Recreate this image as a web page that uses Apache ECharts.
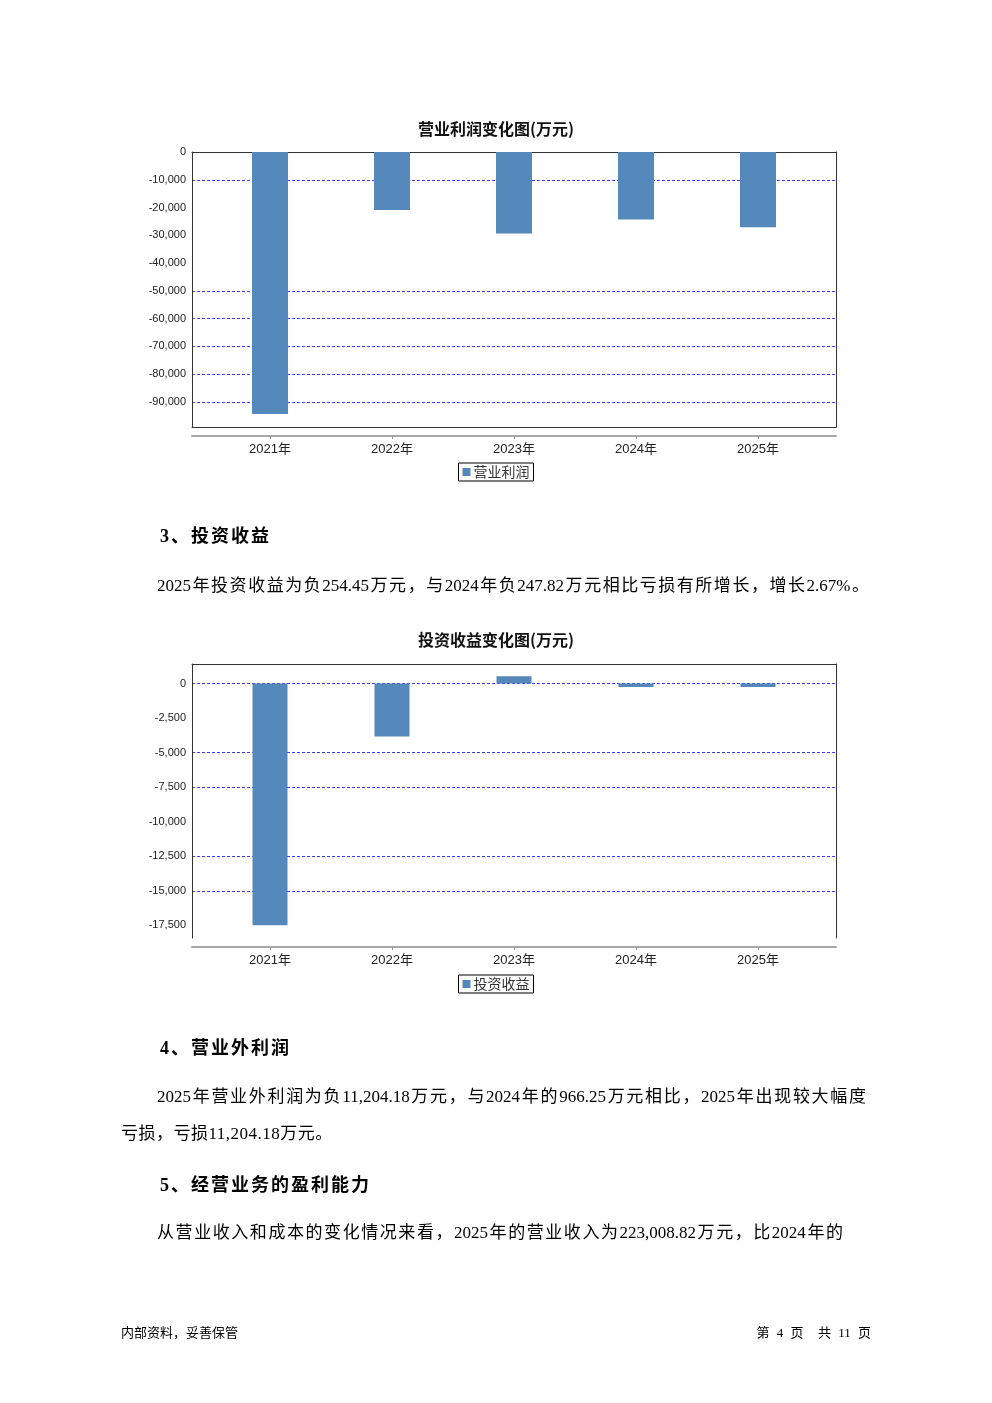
<!DOCTYPE html>
<html>
<head>
<meta charset="utf-8">
<script src="https://cdn.jsdelivr.net/npm/echarts@6.0.0/dist/echarts.min.js"></script>
<style>
  html, body { margin: 0; padding: 0; background: #fff; }
  #page { position: relative; width: 992px; height: 1403px; overflow: hidden; background: #fff; }
  #chart { position: absolute; left: 0; top: 0; width: 992px; height: 1403px; }
  .t { position: absolute; white-space: nowrap; height: 24px; line-height: 24px; color: #000;
       font-family: 'Liberation Serif', 'Noto Sans CJK SC', serif; z-index: 2; }
  .h { font-size: 18px; font-weight: bold; letter-spacing: 2px; }
  .p { font-size: 17px; letter-spacing: 0; }
  .p2 { font-size: 17px; letter-spacing: 0.5px; }
  .j { text-align: justify; text-align-last: justify; }
  .f { font-size: 13px; word-spacing: 4px; }
</style>
</head>
<body>
<div id="page">
  <div id="chart"></div>
  <div class="t h" style="left:160px; top:524px;">3、投资收益</div>
  <div class="t p j" style="left:157px; top:574px; width:712px;">2025年投资收益为负254.45万元，与2024年负247.82万元相比亏损有所增长，增长2.67%。</div>
  <div class="t h" style="left:160px; top:1036px;">4、营业外利润</div>
  <div class="t p j" style="left:157px; top:1085px; width:709px;">2025年营业外利润为负11,204.18万元，与2024年的966.25万元相比，2025年出现较大幅度</div>
  <div class="t p2" style="left:121px; top:1122px;">亏损，亏损11,204.18万元。</div>
  <div class="t h" style="left:160px; top:1173px;">5、经营业务的盈利能力</div>
  <div class="t p j" style="left:157px; top:1221px; width:686px;">从营业收入和成本的变化情况来看，2025年的营业收入为223,008.82万元，比2024年的</div>
  <div class="t f" style="left:121px; top:1321px;">内部资料，妥善保管</div>
  <div class="t f" style="right:121px; top:1321px;">第 4 页 &nbsp;共 11 页</div>
</div>
<script>
// ---- data ----
const years = ['2021年', '2022年', '2023年', '2024年', '2025年'];
const profitName = '营业利润';
const profitValues = [-94300, -20900, -29300, -24300, -27100];
const investName = '投资收益';
const investValues = [-17480, -3830, 530, -247.82, -254.45];
const chart1Title = '营业利润变化图(万元)';
const chart2Title = '投资收益变化图(万元)';
// chart 1 value axis (visible frame range)
const profitAxisRange = [-99000, 0];
const profitAxisStep = 10000;
// chart 2 value axis: frame shows [-18370, 1450]; scale grid extends to whole steps
const investFrameRange = [-18370, 1450];
const investAxisRange = [-20000, 2500];
const investAxisStep = 2500;

// ---- styles ----
const BAR = '#5588bb';
const B = '#3c3cff';
const T = 'rgba(0,0,0,0)';
const DARK = '#333';
const FONT = "'Liberation Sans', 'Noto Sans CJK SC', sans-serif";

function fmt(step, lo, hi) {
  return function (v) {
    if (Math.abs(v % step) > 1e-6) return '';
    if (v < lo || v > hi) return '';
    return Math.round(v).toLocaleString('en-US');
  };
}

const chart = echarts.init(document.getElementById('chart'), null, { renderer: 'canvas' });

function labelY(gi, range, step, splitNumber, interval, splitColors, visRange) {
  const o = {
    type: 'value', gridIndex: gi, position: 'left', min: range[0], max: range[1],
    axisLine: { show: false },
    axisTick: { show: false },
    axisLabel: { show: true, fontSize: 11, color: '#222', margin: 6, fontFamily: FONT, formatter: fmt(step, visRange[0], visRange[1]) },
    splitLine: { show: true, lineStyle: { color: splitColors, type: [3, 2], width: 1 } }
  };
  if (interval) o.interval = interval; else o.splitNumber = splitNumber;
  return o;
}
function lineY(gi, pos, range) {
  return {
    type: 'value', gridIndex: gi, position: pos, min: range[0], max: range[1],
    axisLine: { show: true, onZero: false, lineStyle: { color: DARK, width: 1 } },
    axisTick: { show: false }, axisLabel: { show: false }, splitLine: { show: false }
  };
}
function hiddenY(gi, range) {
  return { type: 'value', gridIndex: gi, min: range[0], max: range[1], show: false, splitLine: { show: false } };
}
function lineX(gi, pos, offset, color, width) {
  return {
    type: 'category', gridIndex: gi, position: pos, offset: offset, data: years,
    axisLine: { show: true, onZero: false, lineStyle: { color: color, width: width } },
    axisTick: { show: false }, axisLabel: { show: false }, splitLine: { show: false }
  };
}
function hiddenX(gi) {
  return { type: 'category', gridIndex: gi, data: years, show: false };
}
function labelX(gi) {
  return {
    type: 'category', gridIndex: gi, position: 'bottom', offset: 9, data: years, boundaryGap: true,
    axisLine: { show: false, onZero: false },
    axisTick: { show: true, alignWithLabel: true, length: 3, lineStyle: { color: '#999' } },
    axisLabel: { show: true, fontSize: 13, color: '#222', margin: 7, fontFamily: FONT },
    splitLine: { show: false }
  };
}

// split line colours by tick index (ticks from axis min upward)
const split1 = [T, B, B, B, B, B, T, T, T, B, T];
const split2 = [T, T, B, B, T, B, B, T, B, T];

const titleStyle = { fontSize: 16, fontWeight: 'bold', color: '#111', fontFamily: "'Noto Sans CJK SC', sans-serif" };
const legendCommon = {
  orient: 'horizontal', left: 'center', icon: 'rect', itemWidth: 8, itemHeight: 8, itemGap: 4,
  borderColor: '#000', borderWidth: 1, padding: [2, 4, 2, 4], backgroundColor: '#fff',
  textStyle: { fontSize: 14, color: '#333', fontFamily: "'Noto Sans CJK SC', sans-serif", padding: [0, 0, 0, -2] }
};

// chart 2 scale grid geometry: frame is 664..938 for investFrameRange
const f2Top = 664, f2H = 274;
const pxPer = f2H / (investFrameRange[1] - investFrameRange[0]);
const s2Top = Math.round(f2Top - (investAxisRange[1] - investFrameRange[1]) * pxPer);
const s2H = Math.round((investAxisRange[1] - investAxisRange[0]) * pxPer);

chart.setOption({
  animation: false,
  backgroundColor: 'transparent',
  title: [
    { text: chart1Title, left: 'center', top: 121, padding: 0, textStyle: titleStyle },
    { text: chart2Title, left: 'center', top: 632, padding: 0, textStyle: titleStyle }
  ],
  legend: [
    Object.assign({}, legendCommon, { top: 463, data: [profitName] }),
    Object.assign({}, legendCommon, { top: 975, data: [investName] })
  ],
  grid: [
    { left: 192, top: 152, width: 644, height: 275 },     // 0 chart1 frame + y labels
    { left: 209, top: 152, width: 610, height: 275 },     // 1 chart1 bars + x labels
    { left: 192, top: f2Top, width: 644, height: f2H },   // 2 chart2 frame
    { left: 209, top: f2Top, width: 610, height: f2H },   // 3 chart2 x labels
    { left: 192, top: s2Top, width: 644, height: s2H },   // 4 chart2 y labels + split lines
    { left: 209, top: s2Top, width: 610, height: s2H }    // 5 chart2 bars
  ],
  xAxis: [
    lineX(0, 'top', 0, DARK, 1),         // 0
    lineX(0, 'bottom', 0, DARK, 1),      // 1
    lineX(0, 'bottom', 9, '#a8a8a8', 2), // 2
    labelX(1),                           // 3
    lineX(2, 'top', 0, DARK, 1),         // 4
    lineX(2, 'bottom', 9, '#a8a8a8', 2), // 5
    labelX(3),                           // 6
    hiddenX(4),                          // 7
    hiddenX(5)                           // 8
  ],
  yAxis: [
    labelY(0, profitAxisRange, profitAxisStep, 10, null, split1, profitAxisRange), // 0
    lineY(0, 'left', profitAxisRange),   // 1
    lineY(0, 'right', profitAxisRange),  // 2
    hiddenY(1, profitAxisRange),         // 3
    lineY(2, 'left', investFrameRange),  // 4
    lineY(2, 'right', investFrameRange), // 5
    hiddenY(3, investFrameRange),        // 6
    labelY(4, investAxisRange, investAxisStep, null, investAxisStep, split2, investFrameRange), // 7
    hiddenY(5, investAxisRange)          // 8
  ],
  series: [
    { name: profitName, type: 'bar', xAxisIndex: 3, yAxisIndex: 3, data: profitValues, barWidth: 36,
      itemStyle: { color: BAR } },
    { name: investName, type: 'bar', xAxisIndex: 8, yAxisIndex: 8, data: investValues, barWidth: 35,
      itemStyle: { color: BAR } }
  ]
});
</script>
</body>
</html>
